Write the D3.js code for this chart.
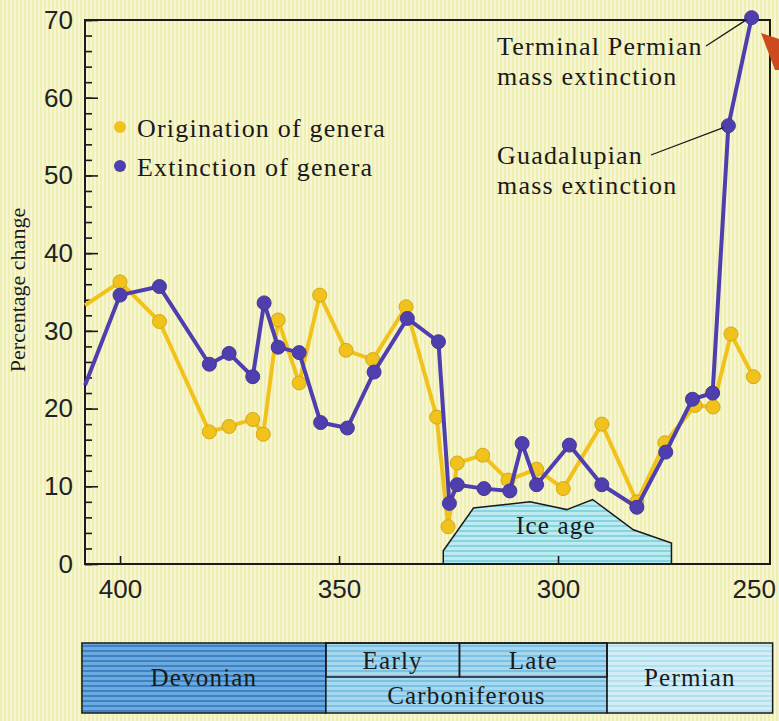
<!DOCTYPE html>
<html>
<head>
<meta charset="utf-8">
<script src="https://cdn.jsdelivr.net/npm/d3@7"></script>
<style>
	body { margin: 0; background: #f6f4d2; }
	svg { display: block; }
	text { font-family: "Liberation Serif", "Times New Roman", serif; fill: #1a1a1a; }
	.axis path { display: none; }
	.axis line { stroke: #1a1a1a; stroke-width: 1.6; }
	.axis text { font-family: "Liberation Sans Narrow", "Liberation Sans", sans-serif; font-size: 26px; fill: #222; }
	.label { letter-spacing: 1.2px; }
</style>
</head>
<body>
<div id="graphic"></div>
<script>
// origination of genera (yellow)
const originationAge = [408, 400, 391, 379.6, 375.1, 369.7, 367.3, 363.9, 359.1, 354.4, 348.4, 342.3, 334.7, 327.7, 325.1, 323, 317.2, 311.4, 304.9, 298.8, 290, 282, 275.6, 268.7, 264.6, 260.5, 255.4];
const originationPct = [33.3, 36.3, 31.2, 17.0, 17.7, 18.6, 16.7, 31.4, 23.3, 34.6, 27.5, 26.3, 33.1, 18.9, 4.8, 13.0, 14.0, 10.8, 12.2, 9.7, 18.0, 8.0, 15.6, 20.4, 20.2, 29.6, 24.1];

// extinction of genera (blue)
const extinctionAge = [408, 400, 391, 379.6, 375.1, 369.7, 367.1, 363.9, 359.1, 354.2, 348.1, 342, 334.4, 327.3, 324.8, 323, 316.9, 311, 308.2, 304.9, 297.4, 290, 282, 275.4, 269.3, 264.7, 261.1, 255.8];
const extinctionPct = [23.0, 34.6, 35.7, 25.7, 27.1, 24.1, 33.6, 27.9, 27.2, 18.2, 17.5, 24.7, 31.6, 28.6, 7.8, 10.2, 9.7, 9.4, 15.5, 10.2, 15.3, 10.2, 7.3, 14.4, 21.2, 22.0, 56.4, 70.3];

// ice age outline (age, height on the percentage scale)
const iceAgeAge = [326.2, 326.2, 319.3, 306.4, 298.0, 292.1, 282.8, 274.1, 274.1];
const iceAgeTop = [0, 1.7, 7.2, 8.0, 7.0, 8.3, 4.4, 2.7, 0];

// geological periods along the bottom
const periodNames = ["Devonian", "Carboniferous", "Permian"];
const periodStart = [408.7, 353, 288.8];
const periodEnd = [353, 288.8, 251];
const epochNames = ["Early", "Late"];
const epochStart = [353, 322.5];
const epochEnd = [322.5, 288.8];

const xTicks = [400, 350, 300];
const yTicks = [0, 10, 20, 30, 40, 50, 60, 70];

const seriesNames = ["Origination of genera", "Extinction of genera"];
const colours = { orig: "#f2c21c", ext: "#4f3fae" };

const W = 779, H = 721;
const margin = { top: 20, right: 9, bottom: 157, left: 85 };
const chartWidth = W - margin.left - margin.right;
const height = H - margin.top - margin.bottom;

const svgRoot = d3.select('#graphic').append('svg')
	.attr('width', W)
	.attr('height', H);

//paper texture
const defs = svgRoot.append('defs');
const paper = defs.append('pattern').attr('id', 'paper')
	.attr('patternUnits', 'userSpaceOnUse').attr('width', 4).attr('height', 4);
paper.append('rect').attr('width', 4).attr('height', 4).attr('fill', '#f7f5d6');
paper.append('rect').attr('width', 2).attr('height', 4).attr('fill', '#eef0b0');

function stripes(id, base, line) {
	const p = defs.append('pattern').attr('id', id)
		.attr('patternUnits', 'userSpaceOnUse').attr('width', 6).attr('height', 5);
	p.append('rect').attr('width', 6).attr('height', 5).attr('fill', base);
	p.append('rect').attr('width', 6).attr('height', 2).attr('fill', line);
}
stripes('devonian', '#6aaade', '#3f82c4');
stripes('carb', '#a6d8f0', '#7cc0e4');
stripes('perm', '#d2edf5', '#b2e0ee');
stripes('ice', '#bdebf0', '#86d4e0');

svgRoot.append('rect').attr('width', W).attr('height', H).attr('fill', 'url(#paper)');

const svg = svgRoot.append('g')
	.attr('transform', 'translate(' + margin.left + ',' + margin.top + ')');

//scales
const x = d3.scaleLinear().domain([408, 251.6]).range([0, chartWidth]);
const y = d3.scaleLinear().domain([0, 70]).range([height, 0]);

//ice age block
const iceArea = d3.line().x((d) => x(d[0])).y((d) => y(d[1]));
const icePts = iceAgeAge.map((a, i) => [a, iceAgeTop[i]]);
svg.append('path')
	.attr('d', iceArea(icePts) + 'Z')
	.attr('fill', 'url(#ice)')
	.attr('stroke', '#1a1a1a')
	.attr('stroke-width', 1.5);
svg.append('text')
	.attr('class', 'label')
	.attr('x', x(300.5))
	.attr('y', y(3.9))
	.attr('text-anchor', 'middle')
	.style('font-size', '25px')
	.text('Ice age');

//y axis: major ticks every 10, minor every 2, pointing inwards
svg.append('g')
	.attr('class', 'y axis')
	.call(d3.axisLeft(y).tickValues(d3.range(0, 71, 2)).tickSizeInner(-7).tickSizeOuter(0).tickFormat(''));
svg.append('g')
	.attr('class', 'y axis')
	.call(d3.axisLeft(y).tickValues(yTicks).tickSizeInner(-13).tickSizeOuter(0).tickPadding(12));

//x axis
const xAxis = svg.append('g')
	.attr('class', 'x axis')
	.attr('transform', 'translate(0,' + height + ')')
	.call(d3.axisBottom(x).tickValues(xTicks).tickSizeInner(-8).tickSizeOuter(0).tickPadding(16));
// final 250 label sits at the right edge of the frame
xAxis.append('text')
	.attr('x', chartWidth + 6)
	.attr('y', 16)
	.attr('dy', '0.71em')
	.attr('text-anchor', 'end')
	.text('250');

//frame
svg.append('rect')
	.attr('width', chartWidth)
	.attr('height', height)
	.attr('fill', 'none')
	.attr('stroke', '#1a1a1a')
	.attr('stroke-width', 2);

//lines + markers
const line = d3.line().x((d) => x(d[0])).y((d) => y(d[1]));
function drawSeries(ages, vals, col) {
	const pts = ages.map((a, i) => [a, vals[i]]);
	svg.append('path')
		.attr('d', line(pts))
		.attr('fill', 'none')
		.attr('stroke', col)
		.attr('stroke-width', 4)
		.attr('stroke-linejoin', 'round');
	// first point is where the line leaves the frame, no marker there
	svg.append('g').selectAll('circle')
		.data(pts.slice(1))
		.join('circle')
		.attr('cx', (d) => x(d[0]))
		.attr('cy', (d) => y(d[1]))
		.attr('r', 7)
		.attr('fill', col)
		.attr('stroke', d3.color(col).darker(0.4))
		.attr('stroke-width', 1);
}
drawSeries(originationAge, originationPct, colours.orig);
drawSeries(extinctionAge, extinctionPct, colours.ext);

//legend
const legend = svg.append('g').attr('transform', 'translate(35,108)');
[colours.orig, colours.ext].forEach((c, i) => {
	legend.append('circle').attr('cx', 0).attr('cy', i * 39 - 1).attr('r', 6).attr('fill', c);
	legend.append('text')
		.attr('class', 'label')
		.attr('x', 17)
		.attr('y', i * 39)
		.attr('dy', '0.35em')
		.style('font-size', '26px')
		.text(seriesNames[i]);
});

//annotations
const last = extinctionAge.length - 1;
function annotate(lines, tx, ty, lineEndX, pAge, pVal) {
	const t = svg.append('text').attr('class', 'label').attr('x', tx).attr('y', ty).style('font-size', '26px');
	lines.forEach((l, i) => t.append('tspan').attr('x', tx).attr('dy', i ? 30 : 0).text(l));
	svg.append('line')
		.attr('x1', lineEndX).attr('y1', ty - 9)
		.attr('x2', x(pAge) - 5).attr('y2', y(pVal) + 2)
		.attr('stroke', '#1a1a1a').attr('stroke-width', 1.3);
}
annotate(['Terminal Permian', 'mass extinction'], 412, 55 - margin.top, 621, extinctionAge[last], extinctionPct[last]);
annotate(['Guadalupian', 'mass extinction'], 412, 164 - margin.top, 566, extinctionAge[last - 1], extinctionPct[last - 1]);

//red pointer arrow in the top corner
svgRoot.append('path')
	.attr('d', 'M761,33 L779,39 L779,70 L775,70 Z')
	.attr('fill', '#cc4a1e');

//y axis label
svgRoot.append('text')
	.attr('transform', 'translate(25,' + (margin.top + 270) + ') rotate(-90)')
	.attr('text-anchor', 'middle')
	.style('font-size', '22px')
	.text('Percentage change');

//period bar
const bar = svgRoot.append('g').attr('transform', 'translate(' + margin.left + ',0)');
const barTop = 643, barMid = 677, barBottom = 713;
const fills = ['url(#devonian)', 'url(#carb)', 'url(#perm)'];
periodNames.forEach((n, i) => {
	bar.append('rect')
		.attr('x', x(periodStart[i]))
		.attr('y', barTop)
		.attr('width', x(periodEnd[i]) - x(periodStart[i]))
		.attr('height', barBottom - barTop)
		.attr('fill', fills[i])
		.attr('stroke', '#1a1a1a')
		.attr('stroke-width', 1.5);
	const labelY = n == 'Carboniferous' ? barBottom - 9 : (barTop + barBottom) / 2 + 8;
	bar.append('text')
		.attr('class', 'label')
		.attr('x', (x(periodStart[i]) + x(periodEnd[i])) / 2)
		.attr('y', labelY)
		.attr('text-anchor', 'middle')
		.style('font-size', '25px')
		.text(n);
});
epochNames.forEach((n, i) => {
	bar.append('rect')
		.attr('x', x(epochStart[i]))
		.attr('y', barTop)
		.attr('width', x(epochEnd[i]) - x(epochStart[i]))
		.attr('height', barMid - barTop)
		.attr('fill', 'none')
		.attr('stroke', '#1a1a1a')
		.attr('stroke-width', 1.5);
	bar.append('text')
		.attr('class', 'label')
		.attr('x', (x(epochStart[i]) + x(epochEnd[i])) / 2)
		.attr('y', barMid - 8)
		.attr('text-anchor', 'middle')
		.style('font-size', '25px')
		.text(n);
});
</script>
</body>
</html>
